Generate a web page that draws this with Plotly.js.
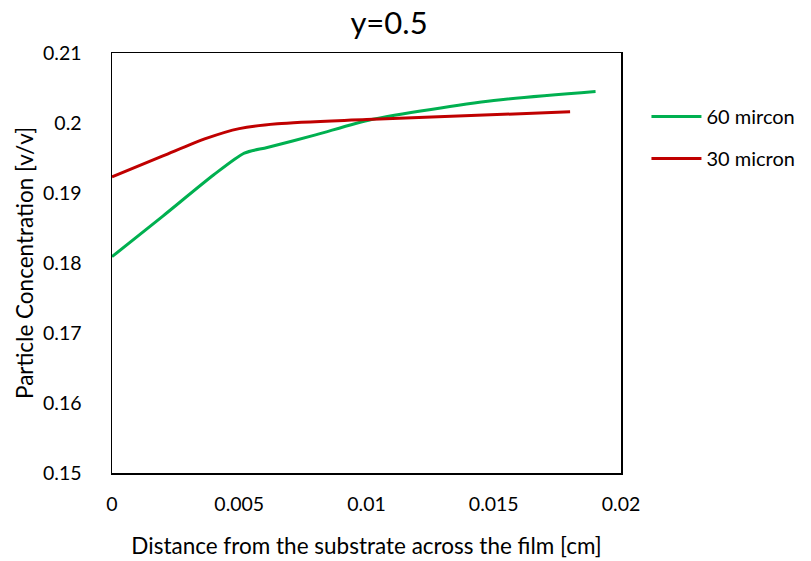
<!DOCTYPE html>
<html>
<head>
<meta charset="utf-8">
<script src="https://cdn.plot.ly/plotly-3.0.1.min.js"></script>
<style>html,body{margin:0;padding:0;background:#fff;}#chart{width:811px;height:561px;}</style>
</head>
<body>
<div id="chart"></div>
<script>
const chartTitle = "y=0.5";
const xTitle = "Distance from the substrate across the film [cm]";
const yTitle = "Particle Concentration [v/v]";
const xTickVals = [0, 0.005, 0.01, 0.015, 0.02];
const xTickText = ["0", "0.005", "0.01", "0.015", "0.02"];
const yTickVals = [0.15, 0.16, 0.17, 0.18, 0.19, 0.2, 0.21];
const yTickText = ["0.15", "0.16", "0.17", "0.18", "0.19", "0.2", "0.21"];

const name60 = "60 mircon";
const x60 = [0, 0.002, 0.004, 0.0052, 0.0061, 0.008, 0.0102, 0.015, 0.019];
const y60 = [0.1809, 0.1867, 0.1926, 0.1957, 0.1965, 0.1983, 0.2005, 0.2032, 0.2045];

const name30 = "30 micron";
const x30 = [0, 0.002, 0.0037, 0.005, 0.0065, 0.01, 0.018];
const y30 = [0.1923, 0.1953, 0.1978, 0.1992, 0.1999, 0.2005, 0.2016];

const FONT = "Lato, 'Open Sans', sans-serif";

const traces = [
  {x: x60, y: y60, name: name60, type: "scatter", mode: "lines", legendgroup: "a",
   line: {color: "#00B050", width: 3, shape: "spline", smoothing: 0.7}},
  {x: x30, y: y30, name: name30, type: "scatter", mode: "lines", legendgroup: "b",
   line: {color: "#C00000", width: 3, shape: "spline", smoothing: 0.8}}
];

const layout = {
  width: 811, height: 561,
  margin: {l: 112, r: 190, t: 53, b: 88, pad: 0, autoexpand: false},
  paper_bgcolor: "#fff", plot_bgcolor: "#fff",
  font: {family: FONT, color: "#000", size: 19},
  title: {text: chartTitle, font: {family: FONT, size: 31, color: "#000"},
          x: 389/811, xref: "container", xanchor: "center", y: 1 - 23/561, yref: "container", yanchor: "middle"},
  xaxis: {
    range: [0, 0.02], tickvals: xTickVals, ticktext: xTickText,
    showgrid: false, zeroline: false, showline: true, mirror: true,
    linecolor: "#000", linewidth: 1.5, ticks: "outside", ticklen: 13, tickcolor: "rgba(0,0,0,0)",
    tickfont: {family: FONT, size: 19.5, color: "#000"},
    title: {text: xTitle, font: {family: FONT, size: 22.5, color: "#000"}, standoff: 24}
  },
  yaxis: {
    range: [0.15, 0.21], tickvals: yTickVals, ticktext: yTickText,
    showgrid: false, zeroline: false, showline: true, mirror: true,
    linecolor: "#000", linewidth: 1.5, ticks: "outside", ticklen: 25, tickcolor: "rgba(0,0,0,0)",
    tickfont: {family: FONT, size: 19.5, color: "#000"},
    title: {text: yTitle, font: {family: FONT, size: 22.5, color: "#000"}, standoff: 3}
  },
  showlegend: true,
  legend: {x: 1.05, xanchor: "left", y: 1 - 44/420, yanchor: "top",
           font: {family: FONT, size: 20, color: "#000"},
           tracegroupgap: 13, traceorder: "grouped", bgcolor: "rgba(0,0,0,0)", itemwidth: 50}
};

Plotly.newPlot("chart", traces, layout, {displayModeBar: false, staticPlot: true});
</script>
</body>
</html>
